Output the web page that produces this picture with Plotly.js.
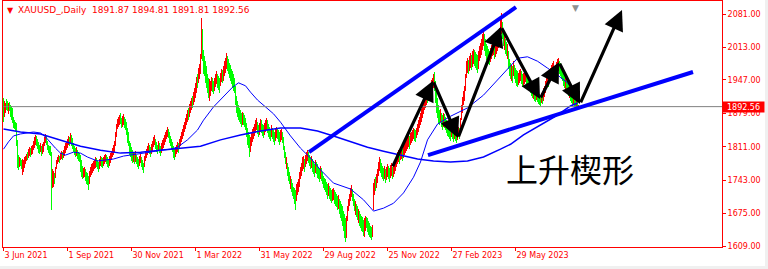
<!DOCTYPE html>
<html><head><meta charset="utf-8">
<script src="https://cdn.plot.ly/plotly-3.0.1.min.js"></script>
<style>html,body{margin:0;padding:0;background:#fff;overflow:hidden}#chart{width:768px;height:269px}</style>
</head><body><div id="chart"></div>
<script>
// ---- data (bar index 0 = 3 Jun 2021, one bar per trading day) ----
const tickBars   = [0, 64, 128, 192, 256, 320, 384, 448, 512];
const tickLabels = ["3 Jun 2021","1 Sep 2021","30 Nov 2021","1 Mar 2022","31 May 2022","29 Aug 2022","25 Nov 2022","27 Feb 2023","29 May 2023"];
const priceTicks = [1609, 1675, 1743, 1811, 1879, 1947, 2013, 2081];
const symbolName = "XAUUSD_,Daily";
const lastOHLC   = ["1891.87", "1894.81", "1891.81", "1892.56"];
const lastPrice  = 1892.56;

const high = [
1910,1905,1900,1908,1904,1899,1903,1896,1894,1889,
1872,1866,1862,1860,1825,1795,1790,1788,1784,1786,
1785,1790,1793,1797,1800,1806,1810,1808,1812,1815,
1822,1830,1834,1832,1826,1820,1815,1818,1812,1816,
1820,1830,1836,1832,1822,1815,1812,1812,1800,1765,
1762,1758,1770,1784,1790,1795,1792,1798,1802,1800,
1805,1812,1818,1820,1826,1832,1830,1839,1834,1828,
1818,1812,1808,1810,1805,1800,1798,1795,1785,1772,
1768,1770,1765,1760,1758,1752,1762,1770,1775,1778,
1782,1785,1790,1788,1784,1780,1786,1792,1790,1788,
1790,1794,1797,1795,1790,1786,1792,1798,1802,1808,
1815,1822,1840,1858,1868,1872,1876,1880,1870,1874,
1878,1872,1868,1862,1850,1840,1822,1818,1810,1805,
1800,1798,1802,1795,1790,1786,1792,1796,1790,1785,
1778,1792,1800,1806,1812,1818,1814,1810,1816,1822,
1830,1835,1826,1820,1815,1822,1818,1812,1818,1824,
1828,1834,1840,1845,1851,1848,1840,1832,1826,1820,
1812,1806,1810,1815,1820,1818,1826,1832,1840,1848,
1856,1862,1870,1878,1885,1890,1898,1905,1910,1915,
1922,1930,1940,1952,1960,1972,1980,2000,2073,2050,
2008,1995,1985,1975,1960,1950,1948,1945,1952,1950,
1945,1950,1958,1965,1960,1955,1950,1962,1970,1968,
1975,1985,1992,2001,1995,1990,1982,1978,1970,1965,
1958,1950,1935,1915,1905,1895,1890,1885,1880,1882,
1880,1875,1870,1860,1850,1842,1835,1830,1840,1848,
1852,1858,1865,1870,1862,1856,1860,1868,1865,1858,
1855,1860,1866,1870,1865,1858,1852,1848,1855,1850,
1845,1842,1848,1852,1850,1846,1840,1845,1848,1842,
1830,1812,1800,1790,1778,1770,1760,1752,1745,1738,
1730,1728,1722,1735,1740,1745,1760,1770,1778,1790,
1792,1786,1795,1800,1805,1800,1795,1790,1792,1786,
1780,1776,1784,1780,1775,1770,1765,1772,1768,1760,
1752,1748,1745,1740,1735,1738,1732,1728,1722,1725,
1728,1722,1718,1715,1710,1712,1705,1700,1695,1690,
1680,1675,1665,1670,1690,1705,1715,1728,1733,1725,
1715,1705,1700,1695,1690,1685,1680,1675,1670,1668,
1662,1665,1670,1668,1665,1660,1655,1650,1648,1652,
1737,1745,1750,1755,1765,1780,1790,1786,1778,1772,
1768,1772,1765,1770,1775,1772,1768,1774,1778,1770,
1776,1782,1788,1795,1800,1805,1802,1808,1810,1806,
1812,1818,1822,1826,1830,1835,1832,1838,1842,1846,
1850,1848,1845,1850,1858,1866,1872,1880,1888,1895,
1902,1910,1915,1920,1925,1930,1935,1940,1946,1950,
1960,1963,1945,1925,1910,1895,1885,1888,1880,1875,
1880,1878,1872,1866,1862,1856,1852,1848,1855,1850,
1846,1850,1845,1842,1848,1852,1850,1870,1895,1912,
1925,1935,1960,1985,1992,1988,1995,2002,1998,2005,
2010,2008,2004,2000,1998,2005,2015,2022,2030,2040,
2053,2040,2030,2020,2015,2010,2005,2012,2018,2022,
2025,2018,2020,2026,2032,2040,2052,2068,2083,2065,
2048,2040,2030,2025,2020,2005,1990,1982,1978,1975,
1985,1978,1972,1968,1965,1962,1968,1970,1965,1960,
1962,1966,1968,1962,1958,1955,1950,1945,1940,1935,
1932,1928,1925,1930,1926,1922,1918,1914,1920,1916,
1930,1935,1945,1952,1960,1958,1965,1972,1978,1981,
1985,1975,1978,1984,1990,1991,1986,1982,1975,1970,
1962,1958,1955,1950,1945,1940,1935,1930,1925,1920,
1925,1918,1912,1910,1905,1895
];
const low = [
1862,1871,1880,1885,1883,1878,1884,1872,1866,1860,
1850,1848,1843,1812,1768,1763,1770,1772,1765,1753,
1760,1768,1776,1781,1784,1788,1793,1790,1794,1797,
1804,1808,1814,1812,1806,1798,1796,1800,1793,1797,
1800,1812,1818,1814,1804,1798,1795,1792,1682,1728,
1730,1735,1748,1765,1775,1780,1778,1784,1786,1783,
1788,1792,1798,1804,1808,1814,1812,1818,1812,1806,
1800,1794,1790,1793,1786,1782,1780,1760,1750,1745,
1748,1750,1742,1735,1733,1723,1735,1750,1754,1758,
1762,1765,1768,1770,1765,1760,1766,1772,1770,1768,
1772,1776,1780,1776,1770,1768,1772,1778,1784,1790,
1795,1800,1812,1830,1848,1852,1856,1858,1850,1852,
1856,1850,1845,1835,1818,1812,1795,1790,1782,1778,
1780,1776,1780,1775,1770,1765,1772,1778,1770,1764,
1757,1770,1782,1788,1794,1798,1796,1790,1796,1802,
1810,1814,1806,1800,1796,1802,1798,1792,1798,1804,
1808,1814,1820,1826,1830,1828,1818,1812,1806,1800,
1788,1784,1790,1796,1800,1798,1806,1812,1820,1826,
1832,1840,1848,1856,1862,1866,1872,1880,1886,1890,
1895,1902,1910,1920,1930,1940,1948,1960,1990,1985,
1960,1955,1940,1930,1920,1910,1905,1915,1925,1922,
1918,1925,1932,1938,1930,1926,1920,1935,1942,1940,
1945,1955,1962,1970,1965,1958,1950,1945,1938,1930,
1925,1920,1895,1880,1872,1865,1862,1858,1852,1855,
1856,1851,1845,1830,1815,1808,1790,1800,1812,1820,
1826,1832,1838,1845,1836,1830,1835,1842,1838,1832,
1828,1834,1840,1845,1838,1830,1826,1822,1830,1826,
1820,1815,1822,1828,1826,1820,1815,1820,1824,1818,
1805,1788,1775,1765,1752,1742,1735,1725,1718,1710,
1705,1695,1682,1700,1712,1718,1730,1745,1752,1762,
1765,1760,1770,1776,1782,1778,1772,1766,1768,1760,
1755,1750,1758,1755,1748,1745,1740,1745,1742,1735,
1728,1722,1718,1712,1705,1710,1705,1700,1696,1700,
1702,1695,1690,1688,1682,1685,1675,1665,1660,1650,
1640,1625,1617,1625,1660,1680,1690,1700,1708,1700,
1690,1680,1672,1668,1662,1656,1650,1645,1640,1638,
1630,1627,1640,1645,1638,1632,1628,1625,1621,1628,
1682,1712,1720,1728,1738,1752,1762,1758,1750,1745,
1742,1746,1738,1744,1750,1745,1740,1748,1752,1745,
1750,1756,1762,1770,1775,1780,1776,1783,1786,1782,
1788,1794,1798,1802,1806,1810,1806,1814,1818,1822,
1826,1822,1820,1828,1835,1842,1850,1856,1862,1870,
1878,1885,1890,1895,1900,1905,1910,1915,1920,1926,
1930,1925,1900,1880,1870,1860,1855,1862,1852,1845,
1852,1850,1845,1838,1832,1830,1826,1822,1830,1826,
1820,1826,1822,1818,1824,1830,1826,1840,1865,1880,
1895,1905,1925,1950,1962,1958,1965,1972,1968,1974,
1980,1976,1972,1968,1962,1970,1985,1992,1998,2008,
2015,2005,1995,1988,1985,1980,1978,1984,1990,1995,
1998,1990,1994,2000,2005,2012,2022,2035,2040,2030,
2015,2008,2000,1995,1990,1970,1955,1948,1945,1940,
1955,1948,1940,1935,1933,1936,1940,1944,1938,1932,
1935,1938,1942,1936,1930,1928,1925,1920,1915,1910,
1908,1905,1902,1906,1902,1898,1896,1894,1900,1898,
1905,1912,1920,1928,1935,1932,1940,1948,1952,1955,
1958,1950,1952,1958,1964,1966,1960,1955,1948,1944,
1935,1930,1926,1922,1918,1915,1910,1905,1900,1895,
1898,1892,1886,1888,1890,1891
];
// r = bullish (red), g = bearish (green)
const barDir = (
"grrggrgggg"+"ggggggrggr"+"rrrrgrrgrr"+"rrrggggrgr"+"rrrggggggr"+
"rgrrrrgrrg"+"rrrrrrgrgg"+"gggrgggggg"+"rrggggrrrr"+"rrrgggrrgg"+
"rrrgggrrrr"+"rrrrrrrggr"+"rggggggggg"+"rgrgggrrgg"+"grrrrrggrr"+
"rrgggrggrr"+"rrrrrggggg"+"ggrrrgrrrr"+"rrrrrgrrrg"+"rrrrgrrrrg"+
"ggggggrrrg"+"grrrgggrrg"+"rrrrgggggg"+"gggggggggr"+"gggggggrrr"+
"rrrrggrrgg"+"grrrggggrg"+"ggrrgggrrg"+"gggrgggrgg"+"gggrrrrrrr"+
"rgrrrgggrg"+"ggrggggrgg"+"gggggrgggr"+"rggggrgggg"+"gggrrrrrrg"+
"ggrggrgggg"+"grrggggggr"+"rrgrrrrggg"+"grgrrggrrg"+"rrrrrrgrrg"+
"rrrrrrgrrr"+"rggrrrrrrr"+"rrrrgrrrrr"+"rggggggrgg"+"rgggggggrg"+
"grggrrgrrr"+"rrrrrgrrgr"+"rggggrrrrr"+"rggggggrrr"+"rgrrrrrrrg"+
"grggrgggrg"+"rggggrrrgg"+"rrrggggggg"+"rggrggggrg"+"rrrrrgrrrr"+
"rgrrrrgggg"+"ggrgggrggg"+"rggrgr").split("");

// moving averages (bar index, price)
const maSlowBar = [0,17,37,57,77,97,117,137,157,177,197,217,237,257,277,297,314,330,347,364,380,397,414,430,447,464,480,497,507,520,537,552,567,574];
const maSlowVal = [1847,1841,1837,1825,1812,1804,1798,1800,1804,1808,1812,1825,1835,1843,1849,1849,1843,1833,1821,1810,1802,1794,1786,1782,1780,1782,1790,1806,1816,1835,1855,1873,1894,1900];
const maFastBar = [0,5,10,17,30,37,42,47,52,57,62,70,77,84,94,102,110,120,127,137,147,157,167,174,184,194,200,210,220,229,235,242,247,254,262,270,277,287,297,307,317,330,347,360,370,380,390,400,410,417,424,434,447,464,480,494,507,514,524,534,544,554,564,574];
const maFastVal = [1806,1821,1833,1837,1841,1839,1831,1819,1808,1798,1794,1800,1798,1790,1782,1784,1786,1792,1794,1796,1800,1804,1806,1810,1825,1845,1865,1892,1912,1932,1941,1935,1922,1906,1892,1878,1861,1833,1808,1788,1764,1737,1725,1703,1680,1686,1696,1717,1749,1780,1825,1857,1873,1890,1916,1947,1975,1991,1994,1985,1971,1957,1941,1916];

// wedge trend lines (bar index, price)
const upperLineBar = [305.5, 512.5], upperLineVal = [1800, 2095];
const lowerLineBar = [424.5, 689.5], lowerLineVal = [1794, 1963];
// zig-zag arrows (bar index, price)
const zigBar = [388.5, 429.5, 454.5, 497.5, 536.5, 555.5, 576.5, 618.5];
const zigVal = [1768, 1945, 1829, 2055, 1908, 1983, 1898, 2089];
const patternLabel = "上升楔形";
const patternBar = 566.5, patternVal = 1768;
const shiftMarkBar = 571.5;

// ---- build ----
const idx = high.map((_, i) => i);
const RED = "#ff0000", GREEN = "#00ff00", BLUE = "#0000ff";
const FONT = "DejaVu Sans, Liberation Sans, sans-serif";

const traces = [
  { type: "bar", x: idx, base: low, y: high.map((h, i) => h - low[i]), width: 1,
    marker: { color: barDir.map(d => d === "r" ? RED : GREEN), line: { width: 0 } },
    hoverinfo: "skip" },
  { type: "scatter", mode: "lines", x: maSlowBar, y: maSlowVal, line: { color: BLUE, width: 1.5 }, hoverinfo: "skip" },
  { type: "scatter", mode: "lines", x: maFastBar, y: maFastVal, line: { color: BLUE, width: 1 }, hoverinfo: "skip" }
];

const shapes = [
  { type: "line", xref: "paper", yref: "y", x0: 0, x1: 1, y0: lastPrice, y1: lastPrice, line: { color: "#808080", width: 1 }, layer: "above" },
  { type: "line", xref: "x", yref: "y", x0: upperLineBar[0], x1: upperLineBar[1], y0: upperLineVal[0], y1: upperLineVal[1], line: { color: BLUE, width: 4 }, layer: "above" },
  { type: "line", xref: "x", yref: "y", x0: lowerLineBar[0], x1: lowerLineBar[1], y0: lowerLineVal[0], y1: lowerLineVal[1], line: { color: BLUE, width: 4 }, layer: "above" },
  // window frame strips
  { type: "rect", xref: "paper", yref: "paper", x0: -0.01, x1: 1.07, y0: -0.0772, y1: -0.1, fillcolor: "#f0f0f0", line: { width: 0 } },
  { type: "rect", xref: "paper", yref: "paper", x0: 1.0598, x1: 1.07, y0: -0.1, y1: 1.01, fillcolor: "#f0f0f0", line: { width: 0 } }
];

const annotations = [];
for (let k = 0; k < zigBar.length - 1; k++) {
  annotations.push({ xref: "x", yref: "y", axref: "x", ayref: "y",
    x: zigBar[k + 1], y: zigVal[k + 1], ax: zigBar[k], ay: zigVal[k], text: "",
    showarrow: true, arrowhead: 2, arrowsize: 1.25, arrowwidth: 3.2, arrowcolor: "#000000", standoff: 0, startstandoff: 0 });
}
annotations.push({ xref: "x", yref: "y", x: patternBar, y: patternVal, text: patternLabel, showarrow: false,
  font: { family: "Noto Sans CJK SC", size: 32, color: "#000000" } });
annotations.push({ xref: "paper", yref: "paper", x: 0, y: 1, xanchor: "left", yanchor: "top", xshift: 2, yshift: -3,
  text: "▼", showarrow: false, font: { family: FONT, size: 8, color: RED } });
annotations.push({ xref: "paper", yref: "paper", x: 0, y: 1, xanchor: "left", yanchor: "top", xshift: 13, yshift: -2,
  text: symbolName + "\u00a0\u00a0" + lastOHLC.join(" "), showarrow: false, font: { family: FONT, size: 9, color: RED } });
annotations.push({ xref: "paper", yref: "y", x: 1, y: lastPrice, xanchor: "left", yanchor: "middle",
  text: lastPrice.toFixed(2), showarrow: false, bgcolor: RED, borderpad: 0, width: 41, height: 10, align: "center",
  font: { family: FONT, size: 8, color: "#ffffff" } });
annotations.push({ xref: "x", yref: "paper", x: shiftMarkBar, y: 1, yanchor: "top", text: "▼", showarrow: false,
  font: { family: FONT, size: 9, color: "#909090" } });

const layout = {
  width: 768, height: 269,
  margin: { l: 3, r: 46, t: 1, b: 22, pad: 0 },
  paper_bgcolor: "#ffffff", plot_bgcolor: "#ffffff",
  showlegend: false, bargap: 0, hovermode: false,
  xaxis: { range: [-0.5, 718.5], showgrid: false, zeroline: false, showline: true, linecolor: RED, linewidth: 1, mirror: true,
    tickmode: "array", tickvals: tickBars, ticktext: tickLabels, ticks: "outside", ticklen: 3, tickcolor: RED, tickwidth: 1,
    ticklabelposition: "outside right", tickfont: { family: FONT, size: 8, color: RED }, fixedrange: true },
  yaxis: { side: "right", range: [1607, 2107.5], showgrid: false, zeroline: false, showline: true, linecolor: RED, linewidth: 1, mirror: true,
    tickmode: "array", tickvals: priceTicks, ticktext: priceTicks.map(v => v.toFixed(2)), ticks: "outside", ticklen: 3, tickcolor: RED, tickwidth: 1,
    tickfont: { family: FONT, size: 8, color: RED }, fixedrange: true },
  shapes: shapes, annotations: annotations
};

Plotly.newPlot("chart", traces, layout, { staticPlot: true, displayModeBar: false });
</script>
</body></html>
